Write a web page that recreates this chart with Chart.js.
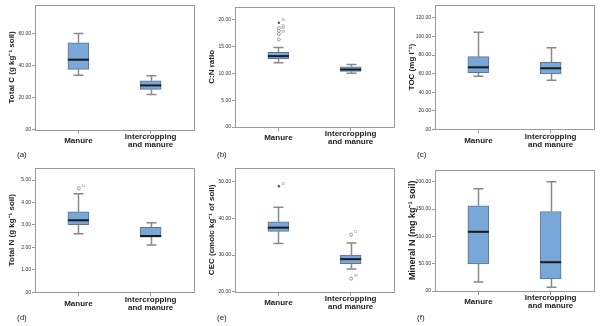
<!DOCTYPE html>
<html><head><meta charset="utf-8">
<script src="https://cdn.jsdelivr.net/npm/chart.js@4/dist/chart.umd.min.js"></script>
<style>
html,body{margin:0;padding:0;background:#fff;}
#wrap{position:relative;width:600px;height:326px;overflow:hidden;}
.p{position:absolute;width:200px;height:163px;}
</style></head><body>
<div id="wrap">
<div class="p" style="left:0;top:0"><canvas id="ca"></canvas></div>
<div class="p" style="left:200px;top:0"><canvas id="cb"></canvas></div>
<div class="p" style="left:400px;top:0"><canvas id="cc"></canvas></div>
<div class="p" style="left:0;top:163px"><canvas id="cd"></canvas></div>
<div class="p" style="left:200px;top:163px"><canvas id="ce"></canvas></div>
<div class="p" style="left:400px;top:163px"><canvas id="cf"></canvas></div>
</div>
<script>
// ---------- DATA ----------
const categories = ['Manure', ['Intercropping', 'and manure']];

// five-number summaries: [min whisker, Q1, median, Q3, max whisker]
const totalC_manure = [34.0, 37.7, 43.8, 54.4, 60.2];
const totalC_inter  = [22.0, 25.2, 27.7, 30.6, 33.8];
const cn_manure     = [11.95, 12.7, 13.2, 13.9, 14.8];
const cn_inter      = [10.0, 10.35, 10.7, 11.2, 11.65];
const toc_manure    = [57.1, 61.0, 66.8, 78.3, 104.6];
const toc_inter     = [52.8, 59.6, 65.8, 72.2, 88.0];
const totalN_manure = [2.61, 3.01, 3.21, 3.59, 4.39];
const totalN_inter  = [2.11, 2.46, 2.51, 2.90, 3.10];
const cec_manure    = [33.2, 36.5, 37.5, 39.1, 43.1];
const cec_inter     = [26.2, 27.65, 28.9, 30.0, 33.3];
const minN_manure   = [16.5, 49.5, 108.3, 156.0, 187.0];
const minN_inter    = [6.8, 22.0, 52.7, 145.5, 200.0];

// outliers (category index, value, case label, kind: o = outlier, * = extreme)
const cn_outCat  = [0, 0, 0, 0, 0];
const cn_outVal  = [19.4, 18.4, 17.9, 17.3, 16.3];
const cn_outLab  = ['26', '25', '30', '28', ''];
const cn_outKind = ['*', 'o', 'o', 'o', 'o'];
const totalN_outCat  = [0];
const totalN_outVal  = [4.63];
const totalN_outLab  = ['41'];
const totalN_outKind = ['o'];
const cec_outCat  = [0, 1, 1];
const cec_outVal  = [48.8, 35.6, 23.55];
const cec_outLab  = ['45', '11', '29'];
const cec_outKind = ['*', 'o', 'o'];

// y tick values
const totalC_ticks = [0, 20, 40, 60];
const cn_ticks     = [0, 5, 10, 15, 20];
const toc_ticks    = [0, 20, 40, 60, 80, 100, 120];
const totalN_ticks = [0, 1, 2, 3, 4, 5];
const cec_ticks    = [20, 30, 40, 50];
const minN_ticks   = [0, 50, 100, 150, 200];

// ---------- PANELS ----------
const panels = [
  {id:'ca', tag:'(a)', title:'Total C (g kg\u207B\u00B9 soil)', boxes:[totalC_manure,totalC_inter], ticks:totalC_ticks, min:0, max:78, top:5, bottom:129.7, out:null},
  {id:'cb', tag:'(b)', title:'C:N ratio', boxes:[cn_manure,cn_inter], ticks:cn_ticks, min:0, max:22.4, top:6.7, bottom:127,
    out:{cat:cn_outCat, val:cn_outVal, lab:cn_outLab, kind:cn_outKind}},
  {id:'cc', tag:'(c)', title:'TOC (mg l\u207B\u00B9)', boxes:[toc_manure,toc_inter], ticks:toc_ticks, min:0, max:134, top:5, bottom:129.3, out:null},
  {id:'cd', tag:'(d)', title:'Total N (g kg\u207B\u00B9 soil)', boxes:[totalN_manure,totalN_inter], ticks:totalN_ticks, min:0, max:5.54, top:5, bottom:129.3,
    out:{cat:totalN_outCat, val:totalN_outVal, lab:totalN_outLab, kind:totalN_outKind}},
  {id:'ce', tag:'(e)', title:'CEC (cmolc kg\u207B\u00B9 of soil)', boxes:[cec_manure,cec_inter], ticks:cec_ticks, min:20, max:53.8, top:5, bottom:128.7,
    out:{cat:cec_outCat, val:cec_outVal, lab:cec_outLab, kind:cec_outKind}},
  {id:'cf', tag:'(f)', title:'Mineral N (mg kg\u207B\u00B9 soil)', titleSize:9, boxes:[minN_manure,minN_inter], ticks:minN_ticks, min:0, max:222, top:6.7, bottom:128, out:null}
];

const FONT = "'Liberation Sans', Arial, sans-serif";
const BOX_FILL = '#79a7d8';
const BOX_EDGE = '#5d7590';
const WHISKER = '#8a8a8a';
const FRAME = '#9a9a9a';

function makePlugin(p) {
  return {
    id: 'boxp_' + p.id,
    beforeDatasetsDraw(chart) {
      const {ctx, scales:{x, y}} = chart;
      ctx.save();
      ctx.strokeStyle = WHISKER;
      ctx.lineWidth = 1.5;
      p.boxes.forEach((s, i) => {
        const px = Math.round(x.getPixelForValue(i)) + 0.5;
        const yMin = y.getPixelForValue(s[0]), yQ1 = y.getPixelForValue(s[1]);
        const yQ3 = y.getPixelForValue(s[3]), yMax = y.getPixelForValue(s[4]);
        ctx.beginPath();
        ctx.moveTo(px, yMin); ctx.lineTo(px, yQ1);
        ctx.moveTo(px, yQ3); ctx.lineTo(px, yMax);
        ctx.moveTo(px - 5, yMin); ctx.lineTo(px + 5, yMin);
        ctx.moveTo(px - 5, yMax); ctx.lineTo(px + 5, yMax);
        ctx.stroke();
      });
      ctx.restore();
    },
    afterDatasetsDraw(chart) {
      const {ctx, scales:{x, y}} = chart;
      const meta = chart.getDatasetMeta(0);
      ctx.save();
      ctx.strokeStyle = '#1b1b1b';
      ctx.lineWidth = 2;
      p.boxes.forEach((s, i) => {
        const bar = meta.data[i];
        const half = bar.width / 2;
        const py = y.getPixelForValue(s[2]);
        ctx.beginPath();
        ctx.moveTo(bar.x - half, py); ctx.lineTo(bar.x + half, py);
        ctx.stroke();
      });
      if (p.out) {
        const o = p.out;
        o.val.forEach((v, k) => {
          const px = x.getPixelForValue(o.cat[k]) + 0.5;
          const py = y.getPixelForValue(v);
          if (o.kind[k] === '*') {
            ctx.fillStyle = '#555';
            ctx.beginPath(); ctx.arc(px, py, 1.2, 0, Math.PI * 2); ctx.fill();
          } else {
            ctx.strokeStyle = '#888'; ctx.lineWidth = 0.8;
            ctx.beginPath(); ctx.arc(px, py, 1.5, 0, Math.PI * 2); ctx.stroke();
          }
          if (o.lab[k]) {
            ctx.fillStyle = '#888';
            ctx.font = '3.5px ' + FONT;
            ctx.textAlign = 'left'; ctx.textBaseline = 'middle';
            ctx.fillText(o.lab[k], px + 2.5, py - 2.5);
          }
        });
      }
      ctx.restore();
    },
    afterDraw(chart) {
      const {ctx, chartArea:a} = chart;
      ctx.save();
      ctx.strokeStyle = FRAME;
      ctx.lineWidth = 1;
      ctx.strokeRect(Math.round(a.left) + 0.5, Math.round(a.top) + 0.5,
        Math.round(a.right - a.left), Math.round(a.bottom - a.top));
      ctx.fillStyle = '#222';
      ctx.font = '8px ' + FONT;
      ctx.textAlign = 'left'; ctx.textBaseline = 'middle';
      ctx.fillText(p.tag, 17, 155);
      ctx.restore();
    }
  };
}

panels.forEach(p => {
  new Chart(document.getElementById(p.id), {
    type: 'bar',
    data: {
      datasets: [{
        data: p.boxes.map((s, i) => ({x: i, y: [s[1], s[3]]})),
        backgroundColor: BOX_FILL,
        borderColor: BOX_EDGE,
        borderWidth: 1,
        borderSkipped: false,
        barThickness: 21
      }]
    },
    options: {
      responsive: true,
      maintainAspectRatio: false,
      animation: false,
      events: [],
      layout: {padding: {top: p.top, right: 6, left: 0, bottom: 0}},
      plugins: {legend: {display: false}, tooltip: {enabled: false}},
      scales: {
        x: {
          type: 'linear', min: -0.6, max: 1.6, offset: false,
          afterBuildTicks: s => { s.ticks = [{value: 0}, {value: 1}]; },
          afterFit: s => { s.height = 163 - p.bottom; },
          border: {display: false},
          grid: {offset: false, drawOnChartArea: false, drawTicks: true, tickLength: 4, color: FRAME},
          ticks: {
            callback: v => categories[v],
            font: {family: FONT, size: 8, weight: 'bold', lineHeight: 1.0},
            color: '#222', padding: 3, maxRotation: 0, autoSkip: false, crossAlign: 'center'
          }
        },
        y: {
          min: p.min, max: p.max,
          afterBuildTicks: s => { s.ticks = p.ticks.map(v => ({value: v})); },
          afterFit: s => { s.width = 35; },
          border: {display: false},
          grid: {drawOnChartArea: false, drawTicks: true, tickLength: 3, color: FRAME},
          ticks: {
            callback: v => (v === 0 ? '.00' : v.toFixed(2)),
            font: {family: FONT, size: 5}, color: '#333', padding: 1
          },
          title: {
            display: true, text: p.title, color: '#222',
            font: {family: FONT, size: p.titleSize || 8, weight: 'bold', lineHeight: 1.2},
            padding: {top: 7, bottom: 0}
          }
        }
      }
    },
    plugins: [makePlugin(p)]
  });
});
</script>
</body></html>
